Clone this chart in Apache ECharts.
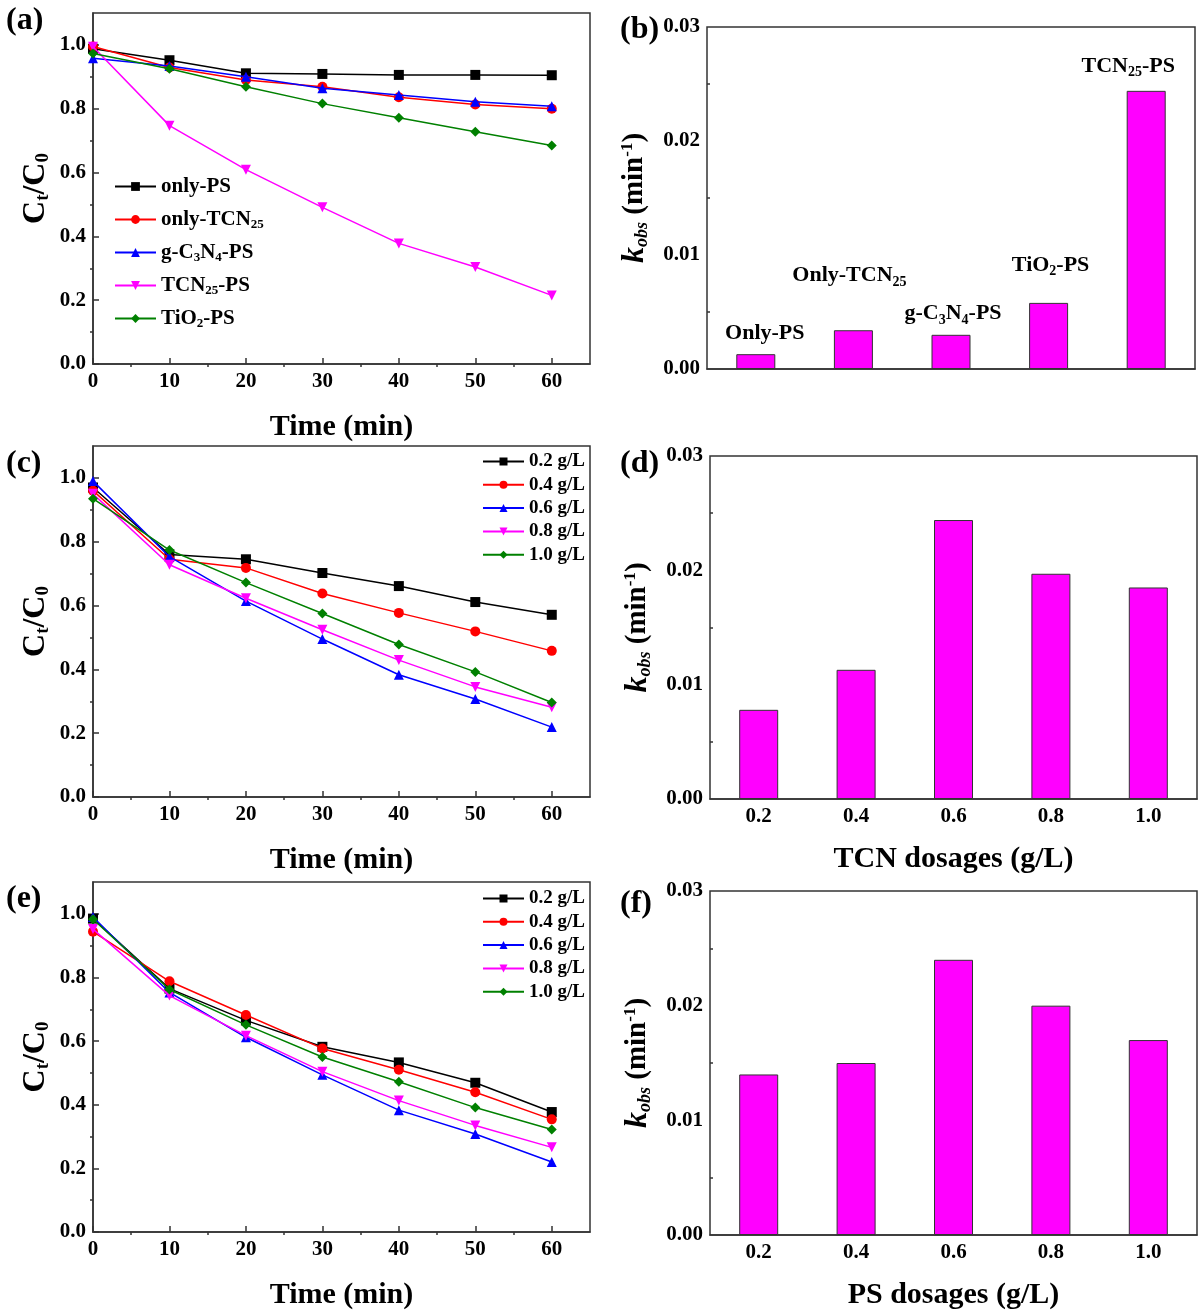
<!DOCTYPE html>
<html>
<head>
<meta charset="utf-8">
<script src="https://cdn.jsdelivr.net/npm/echarts@6/dist/echarts.min.js"></script>
<style>
html, body { margin: 0; padding: 0; background: #fff; }
#main { width: 1201px; height: 1311px; }
</style>
</head>
<body>
<div id="main"></div>
<script>
// ---- data ----
var times = [0, 10, 20, 30, 40, 50, 60];
var xTicks = [0, 10, 20, 30, 40, 50, 60];
var xMinor = [5, 15, 25, 35, 45, 55];
var yTicks = [0, 0.2, 0.4, 0.6, 0.8, 1.0];
var yMinor = [0.1, 0.3, 0.5, 0.7, 0.9];

// (a) different systems
var namesA = ['only-PS', 'only-TCN25', 'g-C3N4-PS', 'TCN25-PS', 'TiO2-PS'];
var onlyPS   = [0.988, 0.952, 0.911, 0.909, 0.906, 0.906, 0.905];
var onlyTCN  = [0.995, 0.929, 0.890, 0.869, 0.836, 0.813, 0.800];
var gC3N4PS  = [0.958, 0.934, 0.900, 0.864, 0.843, 0.822, 0.808];
var tcn25PS  = [0.994, 0.747, 0.609, 0.491, 0.378, 0.304, 0.215];
var tio2PS   = [0.973, 0.925, 0.869, 0.816, 0.772, 0.728, 0.685];

// (c) TCN dosage
var namesDose = ['0.2 g/L', '0.4 g/L', '0.6 g/L', '0.8 g/L', '1.0 g/L'];
var tcn02 = [0.970, 0.760, 0.745, 0.702, 0.661, 0.611, 0.571];
var tcn04 = [0.960, 0.745, 0.718, 0.638, 0.577, 0.519, 0.458];
var tcn06 = [0.990, 0.753, 0.614, 0.495, 0.383, 0.307, 0.219];
var tcn08 = [0.950, 0.728, 0.623, 0.524, 0.429, 0.345, 0.281];
var tcn10 = [0.935, 0.774, 0.672, 0.575, 0.478, 0.392, 0.296];

// (e) PS dosage
var ps02 = [0.985, 0.765, 0.665, 0.582, 0.533, 0.469, 0.377];
var ps04 = [0.944, 0.788, 0.682, 0.577, 0.510, 0.439, 0.354];
var ps06 = [0.990, 0.753, 0.612, 0.494, 0.383, 0.308, 0.220];
var ps08 = [0.952, 0.743, 0.617, 0.504, 0.413, 0.335, 0.266];
var ps10 = [0.983, 0.762, 0.651, 0.550, 0.472, 0.391, 0.322];

// (b) rate constants
var catsB = ['Only-PS', 'Only-TCN25', 'g-C3N4-PS', 'TiO2-PS', 'TCN25-PS'];
var labelsB = ['Only-PS', 'Only-TCN{sub|25}', 'g-C{sub|3}N{sub|4}-PS', 'TiO{sub|2}-PS', 'TCN{sub|25}-PS'];
var kB = [0.0013, 0.0034, 0.0030, 0.0058, 0.0244];

// (d), (f)
var dosages = ['0.2', '0.4', '0.6', '0.8', '1.0'];
var kD = [0.0078, 0.0113, 0.0244, 0.0197, 0.0185];
var kF = [0.0140, 0.0150, 0.0240, 0.0200, 0.0170];

// ---- style ----
var serif = 'Liberation Serif';
var colors = ['#000000', '#ff0000', '#0000ff', '#ff00ff', '#008000'];
var symbols = ['rect', 'circle', 'triangle', 'triangle', 'diamond'];
var rotates = [0, 0, 0, 180, 0];
var axisCol = '#333333';

var grids = [
  {left: 93, top: 13, width: 497, height: 351},
  {left: 707, top: 27, width: 488, height: 342},
  {left: 93, top: 446, width: 497, height: 351},
  {left: 710, top: 456, width: 487, height: 343},
  {left: 93, top: 882, width: 497, height: 351},
  {left: 710, top: 891, width: 487, height: 344}
];
grids.forEach(function (g) {
  g.show = true; g.borderColor = axisCol; g.borderWidth = 1.5; g.containLabel = false;
});

var ctName = {
  fontFamily: serif, fontWeight: 'bold', fontSize: 32, color: '#000', lineHeight: 34,
  rich: {
    sub: {fontFamily: serif, fontWeight: 'bold', fontSize: 19, verticalAlign: 'bottom', lineHeight: 16, color: '#000'}
  }
};
var kName = {
  fontFamily: serif, fontWeight: 'bold', fontSize: 29, color: '#000', lineHeight: 32,
  rich: {
    k: {fontFamily: serif, fontWeight: 'bold', fontStyle: 'italic', fontSize: 32, lineHeight: 32, color: '#000'},
    obs: {fontFamily: serif, fontWeight: 'bold', fontStyle: 'italic', fontSize: 18, verticalAlign: 'bottom', lineHeight: 15, color: '#000'},
    sup: {fontFamily: serif, fontWeight: 'bold', fontSize: 17, verticalAlign: 'top', lineHeight: 15, color: '#000'}
  }
};
var axisNameStyle = {fontFamily: serif, fontWeight: 'bold', fontSize: 30, color: '#000'};

function tickLabel() {
  return {fontFamily: serif, fontWeight: 'bold', fontSize: 21, color: '#000', margin: 7};
}

var xAxes = [], yAxes = [], series = [];

// line panels: grid 0, 2, 4
function lineAxes(g) {
  xAxes[g] = {
    gridIndex: g, type: 'value', min: 0, max: 65,
    name: 'Time (min)', nameLocation: 'middle', nameGap: 48,
    nameTextStyle: axisNameStyle,
    axisLine: {lineStyle: {color: axisCol, width: 1.5}},
    axisTick: {inside: true, length: 6, customValues: xTicks, lineStyle: {color: axisCol, width: 1.5}},
    axisLabel: Object.assign(tickLabel(), {customValues: xTicks}),
    splitLine: {show: false}
  };
  yAxes[g] = {
    gridIndex: g, type: 'value', min: 0, max: 1.1,
    name: 'C{sub|t}/C{sub|0}', nameLocation: 'middle', nameGap: 40, nameRotate: 90,
    nameTextStyle: ctName,
    axisLine: {lineStyle: {color: axisCol, width: 1.5}},
    axisTick: {inside: true, length: 6, customValues: yTicks, lineStyle: {color: axisCol, width: 1.5}},
    axisLabel: Object.assign(tickLabel(), {
      customValues: yTicks,
      formatter: function (v) { return v.toFixed(1); }
    }),
    splitLine: {show: false}
  };
}

function minorAxes(g) {
  xAxes.push({
    gridIndex: g, type: 'value', min: 0, max: 65,
    axisLine: {show: false}, axisLabel: {show: false}, splitLine: {show: false},
    axisTick: {show: true, inside: true, length: 3, customValues: xMinor, lineStyle: {color: axisCol, width: 1.5}}
  });
  yAxes.push({
    gridIndex: g, type: 'value', min: 0, max: 1.1,
    axisLine: {show: false}, axisLabel: {show: false}, splitLine: {show: false},
    axisTick: {show: true, inside: true, length: 3, customValues: yMinor, lineStyle: {color: axisCol, width: 1.5}}
  });
}

function lineSeries(g, names, valueSets) {
  valueSets.forEach(function (vals, i) {
    series.push({
      name: names[i], type: 'line', xAxisIndex: g, yAxisIndex: g,
      data: times.map(function (t, j) { return [t, vals[j]]; }),
      symbol: symbols[i], symbolRotate: rotates[i], symbolSize: 10,
      lineStyle: {color: colors[i], width: 1.5},
      itemStyle: {color: colors[i]},
      z: 2 + i
    });
  });
}

function barAxes(g, cats, xName, showTicks) {
  xAxes[g] = {
    gridIndex: g, type: 'category', data: cats,
    name: xName, nameLocation: 'middle', nameGap: 45,
    nameTextStyle: axisNameStyle,
    axisLine: {lineStyle: {color: axisCol, width: 1.5}},
    axisTick: {show: showTicks, inside: true, alignWithLabel: true, length: 6, lineStyle: {color: axisCol, width: 1.5}},
    axisLabel: Object.assign(tickLabel(), {show: showTicks}),
    splitLine: {show: false}
  };
  yAxes[g] = {
    gridIndex: g, type: 'value', min: 0, max: 0.03, interval: 0.01,
    name: '{k|k}{obs|obs} (min{sup|-1})', nameLocation: 'middle', nameGap: 56, nameRotate: 90,
    nameTextStyle: kName,
    axisLine: {lineStyle: {color: axisCol, width: 1.5}},
    axisTick: {inside: true, length: 6, lineStyle: {color: axisCol, width: 1.5}},
    minorTick: {show: true, splitNumber: 2, length: 3, lineStyle: {color: axisCol, width: 1.5}},
    axisLabel: Object.assign(tickLabel(), {
      formatter: function (v) { return v.toFixed(2); }
    }),
    splitLine: {show: false}
  };
}

function barSeries(g, vals) {
  series.push({
    type: 'bar', xAxisIndex: g, yAxisIndex: g, barWidth: 39,
    data: vals,
    itemStyle: {color: '#ff00ff', borderColor: '#333', borderWidth: 1}
  });
}

lineAxes(0); lineAxes(2); lineAxes(4);
barAxes(1, catsB, '', false);
barAxes(3, dosages, 'TCN dosages (g/L)', true);
barAxes(5, dosages, 'PS dosages (g/L)', true);
minorAxes(0); minorAxes(2); minorAxes(4);

lineSeries(0, namesA, [onlyPS, onlyTCN, gC3N4PS, tcn25PS, tio2PS]);
lineSeries(2, namesDose, [tcn02, tcn04, tcn06, tcn08, tcn10]);
lineSeries(4, namesDose, [ps02, ps04, ps06, ps08, ps10]);

// bar (b) with labels above the bars
var offB = [[9, -4], [-4, -38], [2, -4], [2, -21], [-18, -8]];
series.push({
  type: 'bar', xAxisIndex: 1, yAxisIndex: 1, barWidth: 39,
  data: kB.map(function (v, i) {
    return {value: v, label: {offset: offB[i]}};
  }),
  itemStyle: {color: '#ff00ff', borderColor: '#333', borderWidth: 1},
  label: {
    show: true, position: 'top', distance: 5,
    fontFamily: serif, fontWeight: 'bold', fontSize: 22, color: '#000', lineHeight: 24,
    formatter: function (p) { return labelsB[p.dataIndex]; },
    rich: {
      sub: {fontFamily: serif, fontWeight: 'bold', fontSize: 14, verticalAlign: 'top', padding: [12, 0, 0, 0], lineHeight: 14, color: '#000'}
    }
  }
});
barSeries(3, kD);
barSeries(5, kF);

var panelTitles = [
  {text: '(a)', left: 6, top: 5},
  {text: '(b)', left: 620, top: 14},
  {text: '(c)', left: 6, top: 448},
  {text: '(d)', left: 620, top: 448},
  {text: '(e)', left: 6, top: 883},
  {text: '(f)', left: 620, top: 888}
];
panelTitles.forEach(function (t) {
  t.padding = 0;
  t.textStyle = {fontFamily: serif, fontWeight: 'bold', fontSize: 32, color: '#000'};
});

var legendText = {
  fontFamily: serif, fontWeight: 'bold', fontSize: 21, color: '#000', lineHeight: 23,
  rich: {
    sub: {fontFamily: serif, fontWeight: 'bold', fontSize: 13, verticalAlign: 'bottom', lineHeight: 12, color: '#000'}
  }
};
var doseText = {fontFamily: serif, fontWeight: 'bold', fontSize: 19, color: '#000', lineHeight: 19};

var option = {
  animation: false,
  backgroundColor: '#fff',
  title: panelTitles,
  grid: grids,
  xAxis: xAxes,
  yAxis: yAxes,
  legend: [
    {
      data: namesA, orient: 'vertical', left: 114, top: 175,
      itemWidth: 41, itemHeight: 11, itemGap: 10, padding: 0,
      textStyle: legendText,
      formatter: function (n) { return n.replace(/(\d+)/g, '{sub|$1}'); }
    },
    {
      data: namesDose, orient: 'vertical', left: 482, top: 452,
      itemWidth: 41, itemHeight: 10, itemGap: 4.3, padding: 0,
      textStyle: doseText
    },
    {
      data: namesDose, orient: 'vertical', left: 482, top: 889,
      itemWidth: 41, itemHeight: 10, itemGap: 4.3, padding: 0,
      textStyle: doseText
    }
  ],
  series: series
};

var chart = echarts.init(document.getElementById('main'));
chart.setOption(option);
window.addEventListener('resize', function () {
  chart.resize();
});
</script>
</body>
</html>
